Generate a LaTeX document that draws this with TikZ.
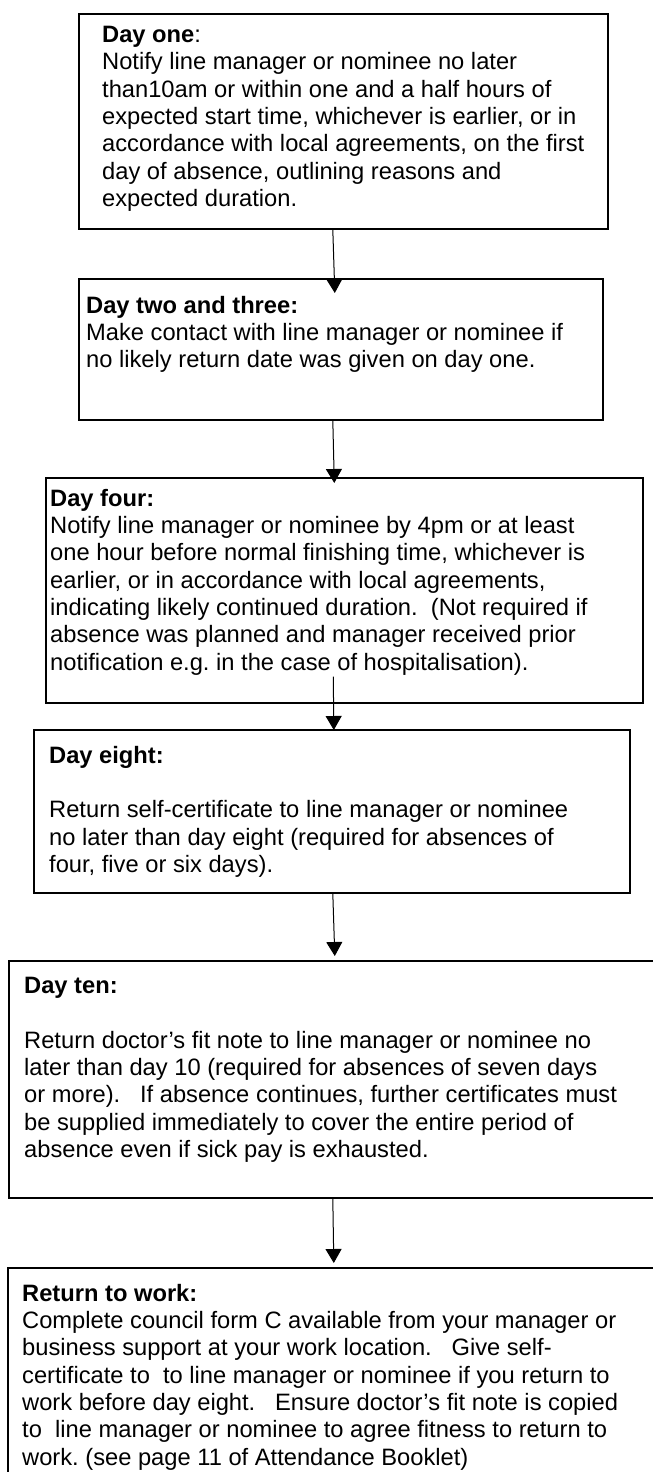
\documentclass[tikz,border=0pt]{standalone}
\usepackage{fontspec}
\setmainfont{Liberation Sans}
\usetikzlibrary{arrows.meta}

\begin{document}
\begin{tikzpicture}[x=1pt, y=-1pt,
    box/.style={draw, line width=1.6pt, anchor=north west, inner sep=0pt},
    txt/.style={anchor=north west, inner sep=0pt, align=left,
        font=\fontsize{23.7pt}{27.3pt}\selectfont\frenchspacing},
    flow/.style={line width=1pt, -{Triangle[length=14pt, width=16pt]}}]
  \useasboundingbox (0,0) rectangle (653,1472);
  \clip (0,0) rectangle (653,1472);
  % boxes
  \node[box, minimum width=529pt, minimum height=215pt] (one) at (78,13) {};
  \node[box, minimum width=524pt, minimum height=141pt] (twothree) at (78,278) {};
  \node[box, minimum width=597pt, minimum height=225pt] (four) at (45,477) {};
  \node[box, minimum width=596pt, minimum height=163pt] (eight) at (33,729) {};
  \node[box, minimum width=652pt, minimum height=237pt] (ten) at (8,960) {};
  \node[box, minimum width=653pt, minimum height=230pt] (back) at (7,1267) {};
  % texts
  \node[txt] (onetext) at (102,26) {\textbf{Day one}:\\
    Notify line manager or nominee no later\\
    than10am or within one and a half hours of\\
    expected start time, whichever is earlier, or in\\
    accordance with local agreements, on the first\\
    day of absence, outlining reasons and\\
    expected duration.};
  \node[txt] (twothreetext) at (86,296) {\textbf{Day two and three:}\\
    Make contact with line manager or nominee if\\
    no likely return date was given on day one.};
  \node[txt] (fourtext) at (50,489) {\textbf{Day four:}\\
    Notify line manager or nominee by 4pm or at least\\
    one hour before normal finishing time, whichever is\\
    earlier, or in accordance with local agreements,\\
    indicating likely continued duration.\ \ (Not required if\\
    absence was planned and manager received prior\\
    notification e.g. in the case of hospitalisation).};
  \node[txt] (eighttext) at (49,746) {\textbf{Day eight:}\\[27.3pt]
    Return self-certificate to line manager or nominee\\
    no later than day eight (required for absences of\\
    four, five or six days).};
  \node[txt] (tentext) at (24,977) {\textbf{Day ten:}\\[27.3pt]
    Return doctor’s fit note to line manager or nominee no\\
    later than day 10 (required for absences of seven days\\
    or more).\ \ \ If absence continues, further certificates must\\
    be supplied immediately to cover the entire period of\\
    absence even if sick pay is exhausted.};
  \node[txt] (backtext) at (22,1284) {\textbf{Return to work:}\\
    Complete council form C available from your manager or\\
    business support at your work location.\ \ \ Give self-\\
    certificate to\ \ to line manager or nominee if you return to\\
    work before day eight.\ \ \ Ensure doctor’s fit note is copied\\
    to\ \ line manager or nominee to agree fitness to return to\\
    work. (see page 11 of Attendance Booklet)};
  % arrows
  \draw[flow] ([xshift=-10.5pt]one.south) -- ([xshift=-6pt, yshift=-15pt]twothree.north);
  \draw[flow] ([xshift=-8pt]twothree.south) -- ([xshift=-10pt, yshift=-6pt]four.north);
  \draw[flow] ([xshift=-11pt, yshift=27pt]four.south) -- ([xshift=2pt, yshift=-1pt]eight.north);
  \draw[flow] ([xshift=1pt]eight.south) -- ([yshift=4pt]ten.north);
  \draw[flow] ([xshift=-2pt]ten.south) -- ([xshift=-0.5pt, yshift=4pt]back.north);
\end{tikzpicture}
\end{document}
